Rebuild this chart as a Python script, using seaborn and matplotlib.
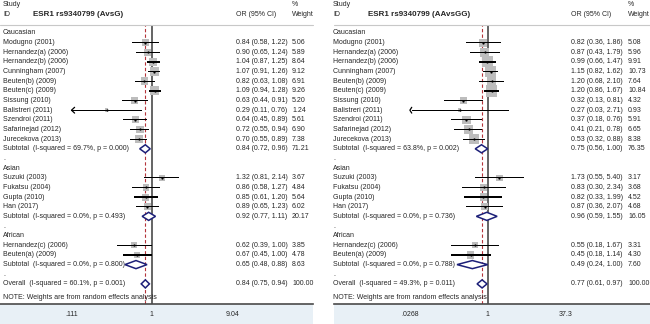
import numpy as np
import pandas as pd
import matplotlib
matplotlib.use("Agg")
import matplotlib.pyplot as plt
import matplotlib.transforms as mtransforms
from matplotlib.patches import Rectangle
from matplotlib.lines import Line2D
from matplotlib.ticker import NullLocator
import seaborn as sns

# ---- data ------------------------------------------------------------------
groups = ["Caucasian", "Asian", "African"]
group_studies = [
    ["Modugno (2001)", "Hernandez(a) (2006)", "Hernandez(b) (2006)", "Cunningham (2007)",
     "Beuten(b) (2009)", "Beuten(c) (2009)", "Sissung (2010)", "Balistreri (2011)",
     "Szendroi (2011)", "Safarinejad (2012)", "Jurecekova (2013)"],
    ["Suzuki (2003)", "Fukatsu (2004)", "Gupta (2010)", "Han (2017)"],
    ["Hernandez(c) (2006)", "Beuten(a) (2009)"],
]

# ESR1 rs9340799 (AvsG)
avsg_or = [0.84, 0.90, 1.04, 1.07, 0.82, 1.09, 0.63, 0.29, 0.64, 0.72, 0.70, 1.32, 0.86, 0.85, 0.89, 0.62, 0.67]
avsg_lo = [0.58, 0.65, 0.87, 0.91, 0.63, 0.94, 0.44, 0.11, 0.45, 0.55, 0.55, 0.81, 0.58, 0.61, 0.65, 0.39, 0.45]
avsg_hi = [1.22, 1.24, 1.25, 1.26, 1.08, 1.28, 0.91, 0.76, 0.89, 0.94, 0.89, 2.14, 1.27, 1.20, 1.23, 1.00, 1.00]
avsg_w = [5.06, 5.89, 8.64, 9.12, 6.91, 9.26, 5.20, 1.24, 5.61, 6.90, 7.38, 3.67, 4.84, 5.64, 6.02, 3.85, 4.78]
avsg_sub_or = [0.84, 0.92, 0.65]
avsg_sub_lo = [0.72, 0.77, 0.48]
avsg_sub_hi = [0.96, 1.11, 0.88]
avsg_sub_w = [71.21, 20.17, 8.63]
avsg_sub_i2 = [69.7, 0.0, 0.0]
avsg_sub_p = ["0.000", "0.493", "0.800"]
avsg_all = [0.84, 0.75, 0.94, 100.00]
avsg_all_het = [60.1, "0.001"]
avsg_ticks = [0.111, 1, 9.04]
avsg_ticklabels = [".111", "1", "9.04"]

# ESR1 rs9340799 (AAvsGG)
aa_or = [0.82, 0.87, 0.99, 1.15, 1.20, 1.20, 0.32, 0.27, 0.37, 0.41, 0.53, 1.73, 0.83, 0.82, 0.87, 0.55, 0.45]
aa_lo = [0.36, 0.43, 0.66, 0.82, 0.68, 0.86, 0.13, 0.03, 0.18, 0.21, 0.32, 0.55, 0.30, 0.33, 0.36, 0.18, 0.18]
aa_hi = [1.86, 1.79, 1.47, 1.62, 2.10, 1.67, 0.81, 2.71, 0.76, 0.78, 0.88, 5.40, 2.34, 1.99, 2.07, 1.67, 1.14]
aa_w = [5.08, 5.96, 9.91, 10.73, 7.64, 10.84, 4.32, 0.93, 5.91, 6.65, 8.38, 3.17, 3.68, 4.52, 4.68, 3.31, 4.30]
aa_sub_or = [0.75, 0.96, 0.49]
aa_sub_lo = [0.56, 0.59, 0.24]
aa_sub_hi = [1.00, 1.55, 1.00]
aa_sub_w = [76.35, 16.05, 7.60]
aa_sub_i2 = [63.8, 0.0, 0.0]
aa_sub_p = ["0.002", "0.736", "0.788"]
aa_all = [0.77, 0.61, 0.97, 100.00]
aa_all_het = [49.3, "0.011"]
aa_ticks = [0.0268, 1, 37.3]
aa_ticklabels = [".0268", "1", "37.3"]

# ---- style -----------------------------------------------------------------
sns.set_style("white")
plt.rcParams["font.family"] = ["Liberation Sans", "DejaVu Sans"]

W, H = 650, 324
FS = 5.0
BOX = "#bdbdbd"
NAVY = "#1c1f78"
DASH = "#b5343a"
BAND = "#e8f0f6"
AXC = "#4a4a4a"
ROW0_PX, ROW_PX = 33, 9.65      # first row centre / row spacing in pixels
SEP_PX, AXIS_PX = 25, 303.5     # separator line / x-axis line
CI_H = 0.13                     # thickness of a CI bar, in rows

stages = []


def probe(fig, tag):
    # darkest pixel just right of the Suzuki box (left panel), where its CI runs
    fig.canvas.draw()
    img = np.asarray(fig.canvas.buffer_rgba())
    stages.append(f"{tag}{int(img[173:183, 168:178, 0].min())}")


def build_rows(ors, los, his, ws, sub_or, sub_lo, sub_hi, sub_w, sub_i2, sub_p, allv, all_het):
    rows = []
    r, k = 0, 0
    for g, names in enumerate(group_studies):
        rows.append(dict(row=r, label=groups[g], kind="head"))
        r += 1
        for name in names:
            rows.append(dict(row=r, label=name, kind="study", orv=ors[k], lo=los[k], hi=his[k], w=ws[k]))
            r += 1
            k += 1
        rows.append(dict(row=r, label=f"Subtotal  (I-squared = {sub_i2[g]:.1f}%, p = {sub_p[g]})",
                         kind="sub", orv=sub_or[g], lo=sub_lo[g], hi=sub_hi[g], w=sub_w[g]))
        r += 1
        rows.append(dict(row=r, label=".", kind="dot"))
        r += 1
    rows.append(dict(row=r, label=f"Overall  (I-squared = {all_het[0]:.1f}%, p = {all_het[1]})",
                     kind="overall", orv=allv[0], lo=allv[1], hi=allv[2], w=allv[3]))
    return pd.DataFrame(rows)


def draw_panel(fig, df, lay, title, ticks, ticklabels, check=False):
    x0, x1 = lay["x0"], lay["x1"]
    one, scale = lay["one"], lay["scale"]
    r_top = (SEP_PX - ROW0_PX) / ROW_PX
    r_bot = (AXIS_PX - ROW0_PX) / ROW_PX
    ax = fig.add_axes([x0 / W, (H - AXIS_PX) / H, (x1 - x0) / W, (AXIS_PX - SEP_PX) / H])
    ax.set_facecolor("none")
    ax.set_xscale("log")
    ax.set_xlim(np.exp((x0 - one) / scale), np.exp((x1 - one) / scale))
    ax.set_ylim(r_bot, r_top)

    studies = df[df.kind == "study"].copy()
    side = lay["box"] * np.sqrt(studies["w"] / studies["w"].max())
    side = np.maximum(side, 3.8)
    studies["s"] = (side * 72 / 100) ** 2
    tmin = ticks[0]
    studies["lo_c"] = np.maximum(studies["lo"].to_numpy(dtype=float), tmin)
    studies["hi_c"] = studies["hi"].to_numpy(dtype=float)

    # null line and overall estimate
    overall = df[df.kind == "overall"].iloc[0]
    ax.axvline(1, color="#3a3a3a", lw=1.1, zorder=1)
    ax.axvline(float(overall["orv"]), color=DASH, lw=0.8, ls=(0, (3, 2)), zorder=1.5)

    # weight boxes
    sns.scatterplot(data=studies, x="orv", y="row", marker="s", s=studies["s"].to_numpy(),
                    color=BOX, linewidth=0, legend=False, ax=ax, zorder=2)

    # confidence intervals as thin bars (clipped ones get an arrow head)
    ax.barh(studies["row"].to_numpy(dtype=float), studies["hi_c"] - studies["lo_c"],
            left=studies["lo_c"].to_numpy(), height=CI_H, color="black", linewidth=0, zorder=3)
    clipped = studies[studies["lo"] <= tmin * 1.2]
    for _, rw in clipped.iterrows():
        ax.plot([tmin * 1.09, tmin, tmin * 1.09], [rw["row"] - 0.3, rw["row"], rw["row"] + 0.3],
                color="black", lw=0.9, zorder=3)
    if check:
        probe(fig, "a")

    ax.plot(studies["orv"].to_numpy(dtype=float), studies["row"].to_numpy(dtype=float),
            ls="none", marker="o", markersize=1.6, color="black", markeredgewidth=0, zorder=4)

    # pooled estimates as diamonds
    for _, rw in df[df.kind.isin(["sub", "overall"])].iterrows():
        hh = 0.42
        ax.fill([rw["lo"], rw["orv"], rw["hi"], rw["orv"], rw["lo"]],
                [rw["row"], rw["row"] - hh, rw["row"], rw["row"] + hh, rw["row"]],
                facecolor="white", edgecolor=NAVY, lw=1.1, zorder=5)
    if check:
        probe(fig, "b")

    ax.set_xlim(np.exp((x0 - one) / scale), np.exp((x1 - one) / scale))
    ax.set_ylim(r_bot, r_top)
    ax.set_xticks(ticks)
    ax.set_xticklabels(ticklabels, fontsize=FS)
    ax.xaxis.set_minor_locator(NullLocator())
    ax.tick_params(axis="x", direction="out", length=3, width=0.8, color=AXC, pad=2.5)
    ax.set_yticks([])
    ax.set_xlabel("")
    ax.set_ylabel("")
    for sp in ["top", "left", "right"]:
        ax.spines[sp].set_visible(False)
    ax.spines["bottom"].set_color(AXC)
    ax.spines["bottom"].set_linewidth(1.2)
    if check:
        probe(fig, "c")

    # band below the axis and separator line
    fig.add_artist(Rectangle((x0 / W, 0), (x1 - x0) / W, (H - AXIS_PX) / H,
                             transform=fig.transFigure, facecolor=BAND, edgecolor="none", zorder=-5))
    fig.add_artist(Line2D([x0 / W, x1 / W], [1 - SEP_PX / H] * 2, transform=fig.transFigure,
                          color="#c8c8c8", lw=0.8))

    # headers
    def ft(xp, yp, s, **kw):
        fig.text(xp / W, 1 - yp / H, s, va="center", ha="left", fontsize=kw.pop("fontsize", FS), **kw)
    ft(lay["lab"], 5, "Study")
    ft(lay["lab"], 14.5, "ID")
    ft(lay["title"], 14, title, fontsize=5.8, fontweight="bold")
    ft(lay["orc"], 14.5, "OR (95% CI)")
    ft(lay["wc"], 5, "%")
    ft(lay["wc"], 14.5, "Weight")
    if check:
        probe(fig, "d")

    tr = mtransforms.blended_transform_factory(fig.transFigure, ax.transData)
    for _, rw in df.iterrows():
        ax.text(lay["lab"] / W, rw["row"], rw["label"], transform=tr, va="center", ha="left", fontsize=FS)
        if rw["kind"] in ("study", "sub", "overall"):
            ax.text(lay["orc"] / W, rw["row"], f"{rw['orv']:.2f} ({rw['lo']:.2f}, {rw['hi']:.2f})",
                    transform=tr, va="center", ha="left", fontsize=FS)
            ax.text(lay["wc"] / W, rw["row"], f"{rw['w']:.2f}", transform=tr,
                    va="center", ha="left", fontsize=FS)
    note_row = df["row"].max() + 1.45
    ax.text(lay["lab"] / W, note_row, "NOTE: Weights are from random effects analysis",
            transform=tr, va="center", ha="left", fontsize=FS)
    if check:
        probe(fig, "e")
    return ax


fig = plt.figure(figsize=(W / 100, H / 100), dpi=100)
fig.patch.set_facecolor("white")

left = build_rows(avsg_or, avsg_lo, avsg_hi, avsg_w, avsg_sub_or, avsg_sub_lo, avsg_sub_hi,
                  avsg_sub_w, avsg_sub_i2, avsg_sub_p, avsg_all, avsg_all_het)
right = build_rows(aa_or, aa_lo, aa_hi, aa_w, aa_sub_or, aa_sub_lo, aa_sub_hi,
                   aa_sub_w, aa_sub_i2, aa_sub_p, aa_all, aa_all_het)

draw_panel(fig, left, dict(x0=0, x1=313, one=151.7, scale=36.5, box=9.0,
                           lab=3, title=33, orc=236, wc=292),
           "ESR1 rs9340799 (AvsG)", avsg_ticks, avsg_ticklabels, check=True)
draw_panel(fig, right, dict(x0=334, x1=650, one=487.7, scale=21.5, box=11.5,
                            lab=333, title=368, orc=571, wc=628),
           "ESR1 rs9340799 (AAvsGG)", aa_ticks, aa_ticklabels)
probe(fig, "f")

# only if the CI did not render: leave the probe trail in the corner
if int(stages[-1][1:]) > 120:
    fig.text(0.005, 0.01, " ".join(stages), fontsize=5, color="red")

fig.savefig("out.png", dpi=100, facecolor="white")
